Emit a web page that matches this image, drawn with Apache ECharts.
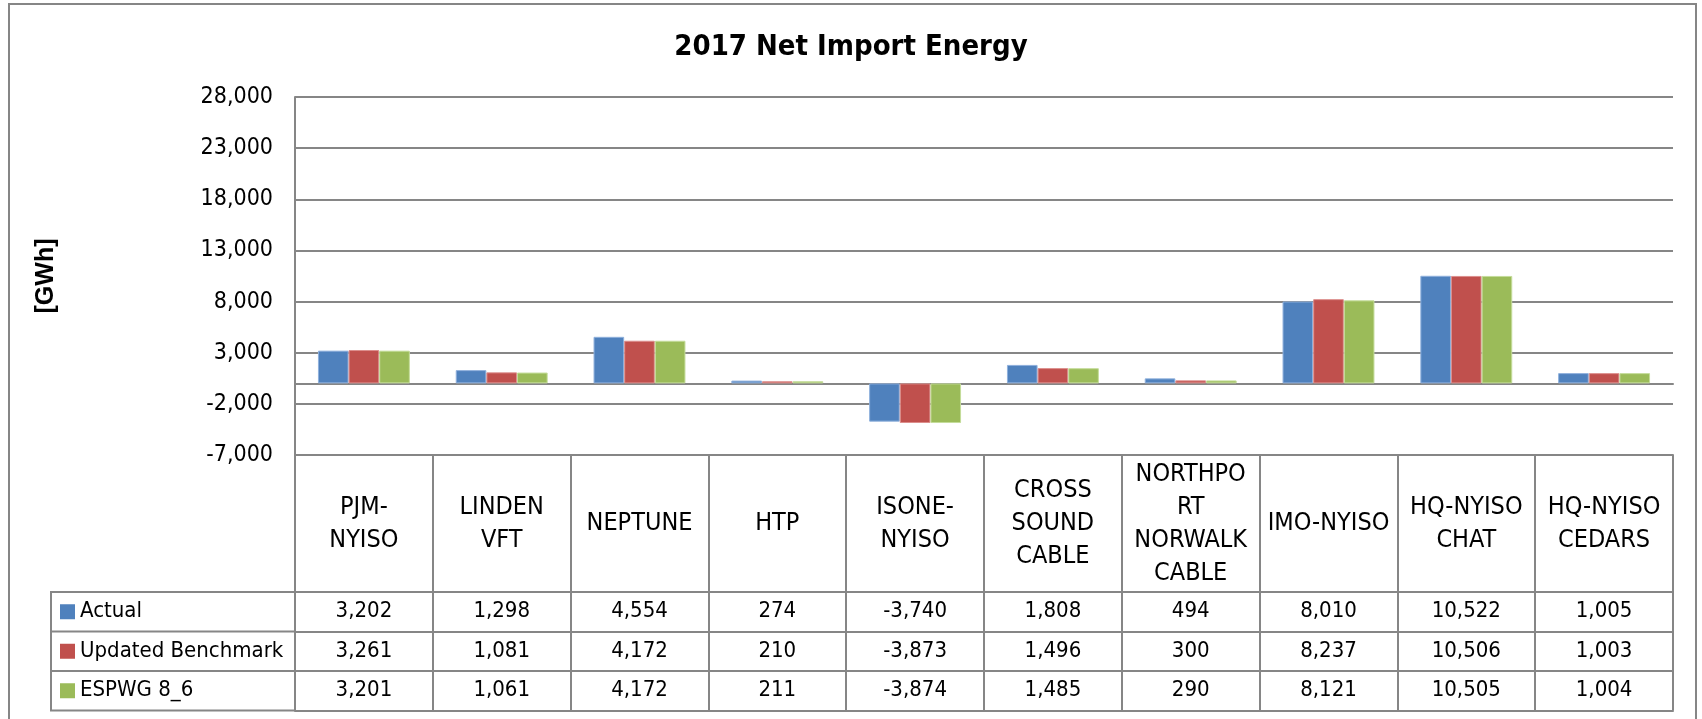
<!DOCTYPE html>
<html>
<head>
<meta charset="utf-8">
<style>
  html, body { margin: 0; padding: 0; background: #fff; }
  #chart { width: 1702px; height: 719px; }
</style>
<script src="https://cdn.jsdelivr.net/npm/echarts@6/dist/echarts.min.js"></script>
</head>
<body>
<div id="chart"></div>
<script>
const categories = [
  'PJM-\nNYISO', 'LINDEN\nVFT', 'NEPTUNE', 'HTP', 'ISONE-\nNYISO',
  'CROSS\nSOUND\nCABLE', 'NORTHPO\nRT\nNORWALK\nCABLE', 'IMO-NYISO',
  'HQ-NYISO\nCHAT', 'HQ-NYISO\nCEDARS',
]
const actual = [3202, 1298, 4554, 274, -3740, 1808, 494, 8010, 10522, 1005]
const updatedBenchmark = [3261, 1081, 4172, 210, -3873, 1496, 300, 8237, 10506, 1003]
const espwg86 = [3201, 1061, 4172, 211, -3874, 1485, 290, 8121, 10505, 1004]
const seriesNames = ['Actual', 'Updated Benchmark', 'ESPWG 8_6']
const yMin = -7000
const yMax = 28000
const yStep = 5000

const NARROW = "'Liberation Sans Narrow', 'Arial Narrow', 'DejaVu Sans Condensed', sans-serif"
const LINE = '#868686'
const GRID = { left: 295, right: 29, top: 97, bottom: 264 }
const HEADER_H = 137
const ROW_H = 39.5
const LEGEND_LEFT = 51

const chart = echarts.init(document.getElementById('chart'))
const fmt = (v) => v.toLocaleString('en-US')

// one extra category axis per table row, pushed down with offset
function tableAxis(offset, height, labels, fontSize) {
  return {
    type: 'category',
    data: categories,
    position: 'bottom',
    offset: offset,
    axisLine: { show: true, onZero: false, lineStyle: { color: LINE, width: 2 } },
    axisTick: { show: height > 0, interval: 0, length: height, lineStyle: { color: LINE, width: 2 } },
    axisLabel: {
      show: !!labels,
      interval: 0,
      margin: height / 2,
      verticalAlign: 'middle',
      align: 'center',
      fontFamily: NARROW,
      fontSize: fontSize || 22,
      lineHeight: 33,
      color: '#000',
      formatter: (value, idx) => (labels ? labels[idx] : ''),
    },
    splitLine: { show: false },
  }
}

chart.setOption({
  backgroundColor: '#fff',
  animation: false,
  title: {
    text: '2017 Net Import Energy',
    left: 'center',
    top: 28,
    textStyle: { fontFamily: NARROW, fontSize: 29, fontWeight: 'bold', color: '#000' },
  },
  legend: {
    orient: 'vertical',
    left: 60,
    top: 719 - GRID.bottom + HEADER_H,
    padding: 0,
    itemGap: 0,
    itemWidth: 15,
    itemHeight: 15,
    icon: 'rect',
    selectedMode: false,
    itemStyle: { borderWidth: 0 },
    textStyle: { fontFamily: NARROW, fontSize: 22, lineHeight: ROW_H, color: '#000' },
    data: seriesNames,
  },
  grid: GRID,
  xAxis: [
    {
      type: 'category',
      data: categories,
      position: 'bottom',
      axisLine: { show: true, onZero: true, lineStyle: { color: LINE, width: 2 } },
      axisTick: { show: false },
      axisLabel: { show: false },
      splitLine: { show: false },
    },
    tableAxis(0, HEADER_H, categories, 25),
    tableAxis(HEADER_H, ROW_H, actual.map(fmt)),
    tableAxis(HEADER_H + ROW_H, ROW_H, updatedBenchmark.map(fmt)),
    tableAxis(HEADER_H + 2 * ROW_H, ROW_H, espwg86.map(fmt)),
    tableAxis(HEADER_H + 3 * ROW_H, 0, null),
  ],
  yAxis: {
    type: 'value',
    min: yMin,
    max: yMax,
    interval: yStep,
    name: '[GWh]',
    nameLocation: 'middle',
    nameGap: 236,
    nameRotate: 90,
    nameTextStyle: { fontFamily: "'Liberation Sans', Arial, sans-serif", fontWeight: 'bold', fontSize: 25, color: '#000' },
    axisLine: { show: true, lineStyle: { color: LINE, width: 2 } },
    axisTick: { show: false },
    axisLabel: { margin: 22, fontFamily: NARROW, fontSize: 23, color: '#000', formatter: fmt },
    splitLine: { lineStyle: { color: LINE, width: 2 } },
  },
  series: [
    { name: seriesNames[0], type: 'bar', data: actual, color: '#4F81BD', itemStyle: { borderColor: '#8fb0dc', borderWidth: 1 } },
    { name: seriesNames[1], type: 'bar', data: updatedBenchmark, color: '#C0504D', itemStyle: { borderColor: '#dc8e8c', borderWidth: 1 } },
    { name: seriesNames[2], type: 'bar', data: espwg86, color: '#9BBB59', itemStyle: { borderColor: '#c4dc9a', borderWidth: 1 } },
  ].map((s) => Object.assign(s, { barGap: '0%', barCategoryGap: '33.3%' })),
})

// outer frame and the legend column box of the data table
const tableTop = chart.getHeight() - GRID.bottom + HEADER_H
const legendBox = [
  {
    type: 'rect',
    silent: true,
    shape: { x: LEGEND_LEFT, y: tableTop, width: GRID.left - LEGEND_LEFT, height: 3 * ROW_H },
    style: { fill: null, stroke: LINE, lineWidth: 2 },
  },
]
for (let i = 1; i < seriesNames.length; i++) {
  legendBox.push({
    type: 'line',
    silent: true,
    shape: { x1: LEGEND_LEFT, y1: tableTop + i * ROW_H, x2: GRID.left, y2: tableTop + i * ROW_H },
    style: { stroke: LINE, lineWidth: 2 },
  })
}
chart.setOption({
  graphic: [
    {
      type: 'rect',
      silent: true,
      shape: { x: 9, y: 4, width: 1687, height: 740 },
      style: { fill: null, stroke: LINE, lineWidth: 2 },
    },
  ].concat(legendBox),
})
</script>
</body>
</html>
